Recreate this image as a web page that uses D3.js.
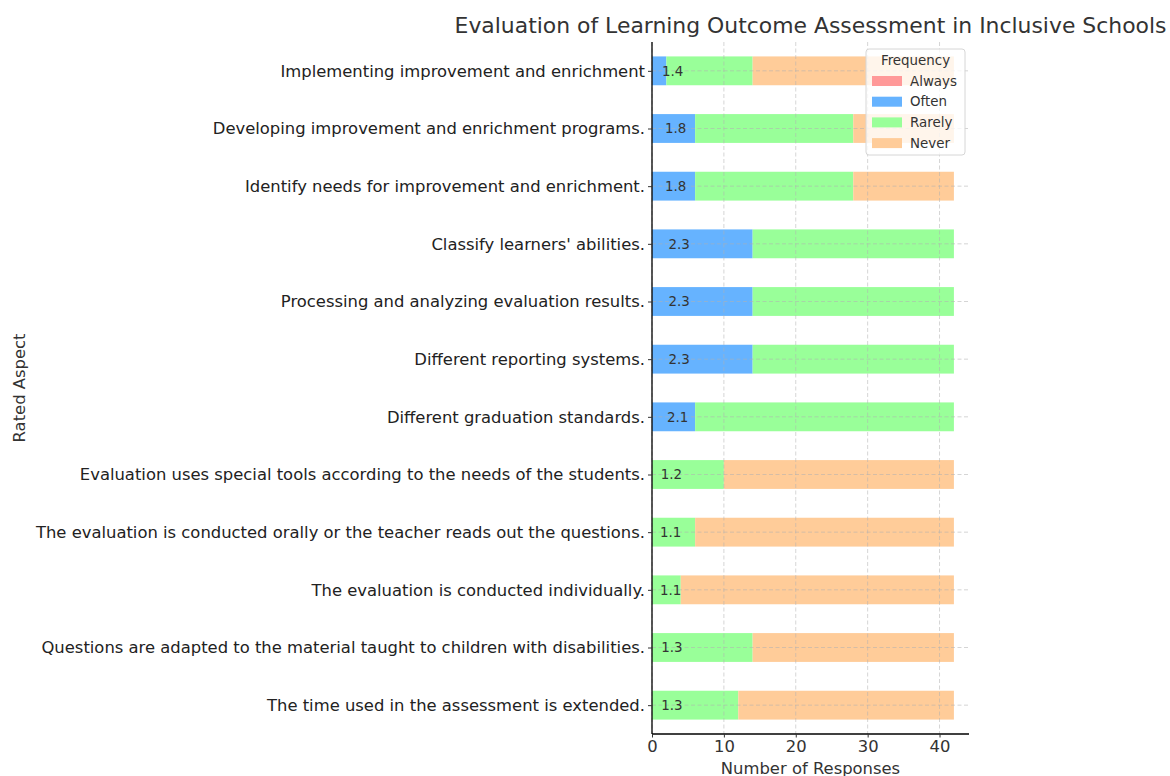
<!DOCTYPE html>
<html>
<head>
  <meta charset="UTF-8" />
  <title>Evaluation of Learning Outcome Assessment</title>
  <style>
    body { margin: 0; background: white; }
    svg, svg text { font-family: "DejaVu Sans", sans-serif; }
  </style>
  <script src="https://d3js.org/d3.v7.min.js"></script>
</head>
<body>
  <script>
    // categories, bottom to top as in the chart
    const aspects = [
      "The time used in the assessment is extended.",
      "Questions are adapted to the material taught to children with disabilities.",
      "The evaluation is conducted individually.",
      "The evaluation is conducted orally or the teacher reads out the questions.",
      "Evaluation uses special tools according to the needs of the students.",
      "Different graduation standards.",
      "Different reporting systems.",
      "Processing and analyzing evaluation results.",
      "Classify learners' abilities.",
      "Identify needs for improvement and enrichment.",
      "Developing improvement and enrichment programs.",
      "Implementing improvement and enrichment"
    ];
    const always = [0, 0, 0, 0, 0, 0, 0, 0, 0, 0, 0, 0];
    const often  = [0, 0, 0, 0, 0, 6, 14, 14, 14, 6, 6, 2];
    const rarely = [12, 14, 4, 6, 10, 36, 28, 28, 28, 22, 22, 12];
    const never  = [30, 28, 38, 36, 32, 0, 0, 0, 0, 14, 14, 28];
    const meanScores = [1.3, 1.3, 1.1, 1.1, 1.2, 2.1, 2.3, 2.3, 2.3, 1.8, 1.8, 1.4];
    const seriesNames = ["Always", "Often", "Rarely", "Never"];
    const xTicks = [0, 10, 20, 30, 40];

    const colors = { Always: "#ff9999", Often: "#66b3ff", Rarely: "#99ff99", Never: "#ffcc99" };
    const textColor = "#333333";
    const fs = 16.4;

    const W = 1170, H = 776;
    const margin = { top: 42, right: 201, bottom: 42, left: 652 };
    const width = W - margin.left - margin.right,
      height = H - margin.top - margin.bottom;

    const rows = aspects.map((a, i) => ({
      aspect: a, Always: always[i], Often: often[i], Rarely: rarely[i], Never: never[i], mean: meanScores[i], idx: i
    }));
    const stacked = d3.stack().keys(seriesNames)(rows);
    const total = d3.max(rows, d => d.Always + d.Often + d.Rarely + d.Never);

    const svg = d3.select("body").append("svg")
      .attr("width", W).attr("height", H);
    const g = svg.append("g")
      .attr("transform", `translate(${margin.left},${margin.top})`);

    const x = d3.scaleLinear().domain([0, total * 1.05]).range([0, width]);
    // y in index units, limits like pandas barh
    const n = aspects.length;
    const barH = 0.5;
    const y = d3.scaleLinear()
      .domain([-0.5, n - 0.5])
      .range([height, 0]);
    const bandPx = y(0) - y(barH);

    /* bars */
    g.append("g").selectAll("g")
      .data(stacked)
      .join("g")
      .attr("fill", s => colors[s.key])
      .selectAll("rect")
      .data(s => s)
      .join("rect")
      .attr("x", d => x(d[0]))
      .attr("width", d => x(d[1]) - x(d[0]))
      .attr("y", d => y(d.data.idx + barH / 2))
      .attr("height", bandPx);

    /* grid on top of bars */
    const grid = g.append("g").attr("stroke", "#b0b0b0").attr("stroke-opacity", 0.6)
      .attr("stroke-dasharray", "4,2.5").attr("stroke-width", 0.9);
    grid.selectAll(".gx").data(xTicks).join("line")
      .attr("x1", d => x(d)).attr("x2", d => x(d))
      .attr("y1", 0).attr("y2", height);
    grid.selectAll(".gy").data(d3.range(n)).join("line")
      .attr("x1", 0).attr("x2", width)
      .attr("y1", d => y(d)).attr("y2", d => y(d));

    /* mean labels */
    g.append("g").selectAll("text")
      .data(rows)
      .join("text")
      .attr("x", d => x(d.mean))
      .attr("y", d => y(d.idx))
      .attr("dy", "0.35em")
      .attr("font-size", 13.4)
      .attr("fill", textColor)
      .text(d => d.mean.toFixed(1));

    /* axes */
    const xAxis = g.append("g")
      .attr("transform", `translate(0,${height})`)
      .call(d3.axisBottom(x).tickValues(xTicks).tickSize(3.5).tickPadding(3).tickSizeOuter(0));
    xAxis.attr("font-family", "DejaVu Sans");
    xAxis.select(".domain").attr("stroke", "#000").attr("stroke-width", 1.3)
      .attr("d", `M0,0H${width}`);
    xAxis.selectAll(".tick line").attr("stroke", "#333");
    xAxis.selectAll("text").attr("font-size", fs).attr("fill", textColor);

    const yAxis = g.append("g")
      .call(d3.axisLeft(y).tickValues(d3.range(n)).tickFormat(i => aspects[i])
        .tickSize(4).tickPadding(3).tickSizeOuter(0));
    yAxis.attr("font-family", "DejaVu Sans");
    yAxis.select(".domain").attr("stroke", "#000").attr("stroke-width", 1.3)
      .attr("d", `M0,0V${height}`);
    yAxis.selectAll(".tick line").attr("stroke", "#333");
    yAxis.selectAll("text").attr("font-size", fs).attr("fill", "#222");

    /* titles */
    svg.append("text")
      .attr("x", margin.left + width / 2).attr("y", 33)
      .attr("text-anchor", "middle")
      .attr("font-size", 21.9).attr("fill", textColor)
      .text("Evaluation of Learning Outcome Assessment in Inclusive Schools");

    svg.append("text")
      .attr("x", margin.left + width / 2).attr("y", 774)
      .attr("text-anchor", "middle")
      .attr("font-size", fs).attr("fill", textColor)
      .text("Number of Responses");

    svg.append("text")
      .attr("transform", `translate(25,${margin.top + height / 2}) rotate(-90)`)
      .attr("text-anchor", "middle")
      .attr("font-size", fs).attr("fill", textColor)
      .text("Rated Aspect");

    /* legend */
    const lg = svg.append("g").attr("transform", "translate(866,49)");
    lg.append("rect")
      .attr("width", 99).attr("height", 106).attr("rx", 3)
      .attr("fill", "white").attr("fill-opacity", 0.8)
      .attr("stroke", "#d6d6d6");
    lg.append("text")
      .attr("x", 49.5).attr("y", 16)
      .attr("text-anchor", "middle")
      .attr("font-size", 13.4).attr("fill", textColor)
      .text("Frequency");
    const items = lg.selectAll(".item").data(seriesNames).join("g")
      .attr("transform", (d, i) => `translate(6,${32 + i * 20.7})`);
    items.append("rect")
      .attr("width", 30).attr("height", 10).attr("y", -5)
      .attr("fill", d => colors[d]);
    items.append("text")
      .attr("x", 38).attr("dy", "0.35em")
      .attr("font-size", 13.4).attr("fill", textColor)
      .text(d => d);
  </script>
</body>
</html>
